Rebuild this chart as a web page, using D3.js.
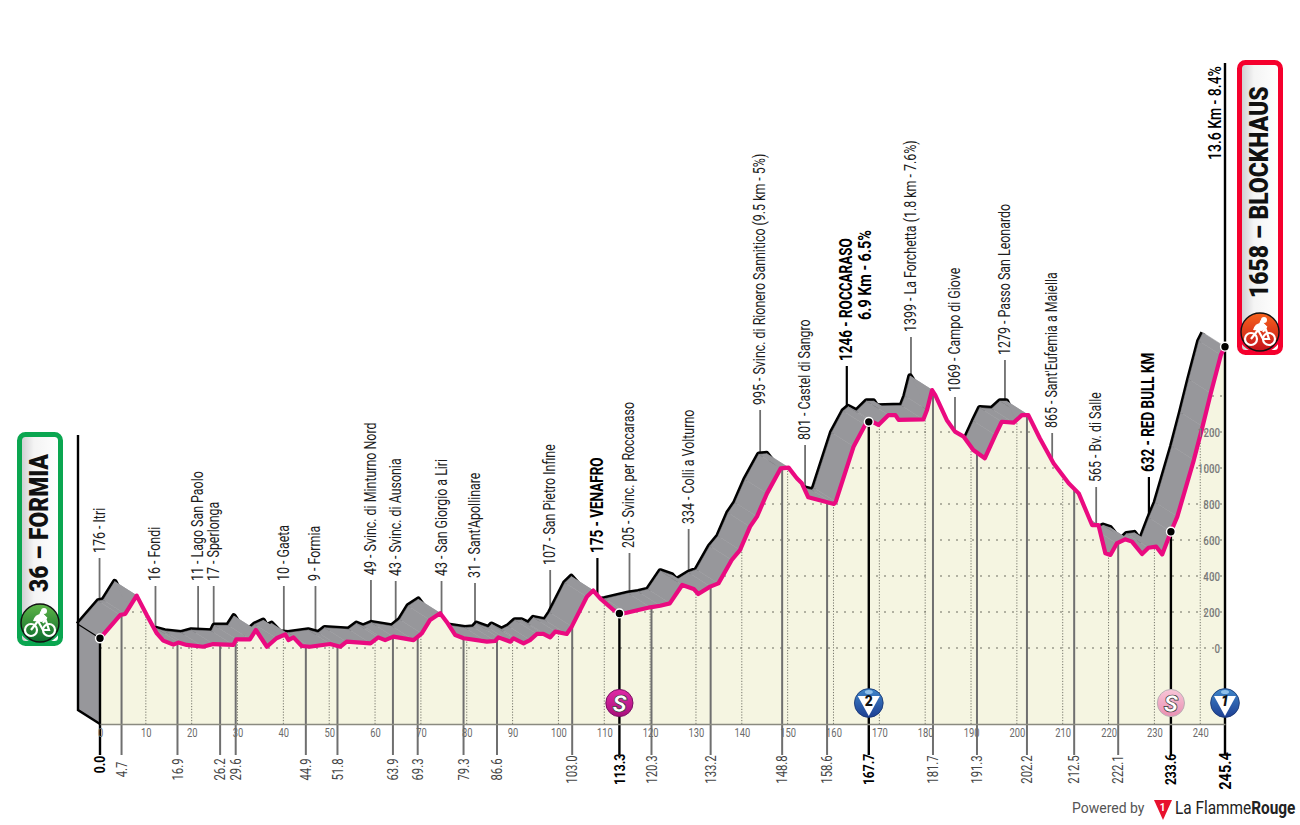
<!DOCTYPE html>
<html>
<head>
<meta charset="utf-8">
<script src="https://d3js.org/d3.v7.min.js"></script>
<style>
  html, body { margin: 0; padding: 0; background: #fff; }
  svg { display: block; }
  text { font-family: Roboto, sans-serif; }
</style>
</head>
<body>
<svg id="chart" width="1300" height="825"></svg>
<script>
// profile
var profileKm = [0, 4.4, 5.5, 8, 10.2, 12.4, 13.8, 16, 17.1, 18.9, 22.5, 24.7, 29.1, 29.7, 32.7, 34, 36.4, 38.5, 40.4, 41.1, 42.2, 44, 45.8, 50.2, 52.4, 53.8, 59, 60.7, 62.2, 64, 68.4, 70.2, 72, 74.2, 75.6, 77.5, 79.3, 84.4, 86.2, 86.9, 89.5, 90.2, 92.4, 93.8, 95.3, 96.7, 98.2, 99.3, 101.8, 102.9, 106.2, 107.6, 109.1, 112, 113.5, 114.9, 120, 122.2, 124.3, 127, 129.5, 130.5, 133.1, 134.9, 137.8, 139.6, 141.8, 143.3, 145.5, 148.5, 150.2, 152, 153.1, 154.5, 160.1, 160.5, 164.4, 166.9, 168, 169.8, 172, 173.5, 174.2, 179.6, 180.4, 181.5, 182.2, 184.7, 186.5, 188.4, 190.5, 193, 195.3, 196.7, 199.3, 201.1, 202.5, 205, 208, 211.3, 213.5, 216.4, 217.8, 219.3, 220.4, 221.8, 223.6, 225.1, 227.3, 228.7, 230.4, 231.7, 233.6, 235, 238.6, 240.5, 242.3, 244.5, 245.4];
var profileElev = [54, 183, 189, 291, 183, 81, 41, 19, 30, 17, 7, 22, 17, 48, 48, 100, 7, 54, 76, 44, 59, 11, 7, 22, 7, 35, 26, 59, 44, 63, 44, 81, 156, 193, 146, 72, 54, 35, 39, 59, 35, 54, 26, 44, 78, 78, 59, 91, 78, 119, 285, 319, 276, 211, 189, 196, 226, 235, 248, 350, 328, 300, 341, 359, 489, 544, 674, 730, 859, 998, 1002, 943, 915, 837, 800, 813, 1120, 1239, 1263, 1239, 1294, 1294, 1267, 1270, 1322, 1433, 1405, 1267, 1202, 1174, 1100, 1054, 1183, 1257, 1252, 1294, 1294, 1165, 1026, 915, 859, 683, 683, 526, 517, 581, 604, 591, 522, 557, 563, 520, 646, 730, 1044, 1230, 1415, 1628, 1674];

var kmTicks = d3.range(0, 241, 10);
var elevTicks = [0, 200, 400, 600, 800, 1000, 1200];
var gridElev = [0, 200, 400, 600, 800, 1000, 1200, 1400];

var waypointKm = [4.7, 16.9, 26.2, 29.6, 44.9, 51.8, 63.9, 69.3, 79.3, 86.6, 103.0, 113.3, 120.3, 133.2, 148.8, 158.6, 167.7, 181.7, 191.3, 202.2, 212.5, 222.1, 233.6];
var waypointLabel = ["176 - Itri", "16 - Fondi", "11 - Lago San Paolo", "17 - Sperlonga", "10 - Gaeta", "9 - Formia", "49 - Svinc. di Minturno Nord", "43 - Svinc. di Ausonia", "43 - San Giorgio a Liri", "31 - Sant'Apollinare", "107 - San Pietro Infine", "175 - VENAFRO", "205 - Svinc. per Roccaraso", "334 - Colli a Volturno", "995 - Svinc. di Rionero Sannitico (9.5 km - 5%)", "801 - Castel di Sangro", "1246 - ROCCARASO", "1399 - La Forchetta (1.8 km - 7.6%)", "1069 - Campo di Giove", "1279 - Passo San Leonardo", "865 - Sant'Eufemia a Maiella", "565 - Bv. di Salle", "632 - RED BULL KM"];
var waypointBold = [113.3, 167.7, 233.6];
var finishKm = 245.4;
var startKm = 0;
var startLabel = "36 – FORMIA";
var finishLabel = "1658 – BLOCKHAUS";
var finishClimb = "13.6 Km - 8.4%";
var roccarasoClimb = "6.9 Km - 6.5%";
var badgeKm = [113.3, 167.7, 233.6, 245.4];
var badgeKind = ["S", "2", "s", "1"];

/* layout, not data */
var axisY = 724, kmLabelY = 769.5, dropY = 755;
var offX = -22, offY = -14;                // depth of the gray band
// top of each leader line, same order as the waypoints
var leaderTop = [558, 586, 586, 586, 586, 586, 580, 581, 581, 583, 570, 558, 553, 529, 410, 445, 366, 337, 397, 360, 433, 487, 477];

var x = d3.scaleLinear().domain([0, 245.4]).range([100, 1225]);
var y = d3.scaleLinear().domain([0, 1400]).range([648, 396]);

var points = profileKm.map(function(k, i){ return [k, profileElev[i]]; });

function elevAt(km){
  var i = d3.bisectLeft(profileKm, km);
  if(i <= 0) return profileElev[0];
  if(i >= profileKm.length) return profileElev[profileElev.length-1];
  var t = (km-profileKm[i-1])/(profileKm[i]-profileKm[i-1]);
  return profileElev[i-1]+t*(profileElev[i]-profileElev[i-1]);
}

var svg = d3.select("#chart");
var defs = svg.append("defs");

function hGrad(id, stops){
  var g = defs.append("linearGradient").attr("id", id).attr("x1", 0).attr("x2", 1).attr("y1", 0).attr("y2", 0);
  stops.forEach(function(s){ g.append("stop").attr("offset", s[0]).attr("stop-color", s[1]); });
}
function vGrad(id, stops){
  var g = defs.append("linearGradient").attr("id", id).attr("x1", 0).attr("x2", 0).attr("y1", 0).attr("y2", 1);
  stops.forEach(function(s){ g.append("stop").attr("offset", s[0]).attr("stop-color", s[1]); });
}
hGrad("boxFill", [[0, "#c9c9cc"], [0.35, "#f4f4f4"], [1, "#ffffff"]]);
vGrad("greenIcon", [[0, "#5fb548"], [1, "#0b6b2c"]]);
vGrad("redIcon", [[0, "#f6631c"], [1, "#c5121c"]]);
vGrad("blueBadge", [[0, "#3f86c9"], [1, "#1d3f93"]]);
vGrad("magBadge", [[0, "#e02aa6"], [1, "#a80f7c"]]);
vGrad("pinkBadge", [[0, "#f8c6d8"], [1, "#e98fb2"]]);

var frontLine = d3.line().x(function(d){ return x(d[0]); }).y(function(d){ return y(d[1]); });
var frontArea = d3.area().x(function(d){ return x(d[0]); }).y0(axisY).y1(function(d){ return y(d[1]); });
var backLine = d3.line().x(function(d){ return x(d[0])+offX; }).y(function(d){ return y(d[1])+offY; });

/* leaders going up to the labels */
var ups = svg.append("g");
waypointKm.forEach(function(k, i){
  var bold = waypointBold.indexOf(k) >= 0;
  ups.append("line")
    .attr("x1", x(k)+offX).attr("x2", x(k)+offX)
    .attr("y1", leaderTop[i]).attr("y2", y(elevAt(k))+offY)
    .attr("stroke", bold ? "#000" : "#6f6f6f").attr("stroke-width", bold ? 2.2 : 1.8);
});

// back edge of the road, the band covers its inner half and the parts behind the crests
svg.append("path").attr("d", backLine(points))
  .attr("fill", "none").attr("stroke", "#000").attr("stroke-width", 5.6).attr("stroke-linejoin", "round");

/* gray band */
var band = svg.append("g");
band.append("path")
  .attr("d", "M"+(x(0)+offX)+","+(y(points[0][1])+offY)+"L"+x(0)+","+y(points[0][1])+"L"+x(0)+","+axisY+"L"+(x(0)+offX)+","+(axisY+offY)+"Z")
  .attr("fill", "#97979b");
d3.pairs(points).forEach(function(p){
  var a = p[0], b = p[1];
  band.append("path")
    .attr("d", "M"+x(a[0])+","+y(a[1])+"L"+x(b[0])+","+y(b[1])+"L"+(x(b[0])+offX)+","+(y(b[1])+offY)+"L"+(x(a[0])+offX)+","+(y(a[1])+offY)+"Z")
    .attr("fill", "#97979b").attr("stroke", "#97979b").attr("stroke-width", 0.5);
});

// left wall edges
svg.append("path").attr("d", "M"+(x(0)+offX)+","+(y(points[0][1])+offY)+"L"+x(0)+","+y(points[0][1]))
  .attr("stroke", "#000").attr("stroke-width", 1.2).attr("fill", "none");
svg.append("path").attr("d", "M"+(x(0)+offX)+",435L"+(x(0)+offX)+","+(axisY+offY)+"L"+x(0)+","+axisY)
  .attr("stroke", "#000").attr("stroke-width", 2.4).attr("fill", "none");

/* front face */
svg.append("path").attr("d", frontArea(points)).attr("fill", "#f5f5e1");
defs.append("clipPath").attr("id", "faceClip").append("path").attr("d", frontArea(points));

var grid = svg.append("g").attr("clip-path", "url(#faceClip)");
gridElev.forEach(function(e){
  grid.append("line").attr("x1", x(0)).attr("x2", x(finishKm)).attr("y1", y(e)).attr("y2", y(e))
    .attr("stroke", "#9a9a8c").attr("stroke-width", 1.6).attr("stroke-dasharray", "2 6");
});
kmTicks.slice(1).forEach(function(k){
  grid.append("line").attr("x1", x(k)).attr("x2", x(k)).attr("y1", 300).attr("y2", axisY)
    .attr("stroke", "#77776c").attr("stroke-width", 1).attr("stroke-dasharray", "1.2 1.6");
});

/* lower drop lines */
var downs = svg.append("g");
waypointKm.forEach(function(k){
  var bold = waypointBold.indexOf(k) >= 0;
  downs.append("line").attr("x1", x(k)).attr("x2", x(k))
    .attr("y1", y(elevAt(k))).attr("y2", dropY)
    .attr("stroke", bold ? "#000" : "#6f6f6f").attr("stroke-width", bold ? 2.4 : 2);
});
[startKm, finishKm].forEach(function(k){
  downs.append("line").attr("x1", x(k)).attr("x2", x(k))
    .attr("y1", k == finishKm ? 63 : y(elevAt(k))).attr("y2", dropY)
    .attr("stroke", "#000").attr("stroke-width", 2.4);
});

/* km axis, its numbers sit over the drop lines */
var kmAxis = svg.append("g").attr("transform", "translate(0,"+axisY+")")
  .call(d3.axisBottom(x).tickValues(kmTicks).tickSize(0).tickPadding(4));
kmAxis.select(".domain").attr("stroke", "#8a8a80").attr("stroke-width", 1.6);
kmAxis.selectAll("text").attr("fill", "#6a6a6a").attr("font-size", 13)
  .attr("font-family", "Roboto").attr("transform", "scale(0.72,1)");

// road
svg.append("path").attr("d", frontLine(points))
  .attr("fill", "none").attr("stroke", "#ea0a80").attr("stroke-width", 4.2).attr("stroke-linejoin", "round");

/* elevation axis, over the road */
var elevAxis = svg.append("g").attr("transform", "translate(1220,0)")
  .call(d3.axisLeft(y).tickValues(elevTicks).tickSize(0).tickPadding(0).tickFormat(d3.format("d")));
elevAxis.select(".domain").remove();
elevAxis.selectAll("text").attr("fill", "#7a7a7a").attr("font-size", 13).attr("font-weight", 500)
  .attr("font-family", "Roboto").attr("transform", "scale(0.75,1)");

/* text helpers */
function vText(px, py, str, opt){
  opt = opt || {};
  return svg.append("text")
    .attr("transform", "translate("+px+","+py+") rotate(-90) scale("+(opt.sx || 0.73)+",1)")
    .attr("dy", "0.35em")
    .attr("text-anchor", opt.anchor || "start")
    .attr("font-size", opt.size || 17)
    .attr("font-weight", opt.weight || 400)
    .attr("fill", opt.fill || "#1c1c1c")
    .text(str);
}

waypointKm.forEach(function(k, i){
  var bold = waypointBold.indexOf(k) >= 0;
  vText(x(k)+offX-1, leaderTop[i]-5, waypointLabel[i], bold ? {size: 18, sx: 0.75, weight: 700, fill: "#000"} : {});
  vText(x(k), kmLabelY, k.toFixed(1), bold
    ? {anchor: "middle", size: 15.5, weight: 700, fill: "#000", sx: 0.78}
    : {anchor: "middle", size: 14.5, fill: "#444", sx: 0.78});
});
vText(x(0), kmLabelY-5, startKm.toFixed(1), {anchor: "middle", size: 15.5, weight: 700, fill: "#000", sx: 0.78});
vText(x(finishKm), kmLabelY+1.5, finishKm.toFixed(1), {anchor: "middle", size: 17, weight: 700, fill: "#000", sx: 0.85});
vText(x(167.7)-4, 320, roccarasoClimb, {size: 18, sx: 0.8, weight: 700, fill: "#000"});
vText(x(finishKm)-10, 160, finishClimb, {size: 17.5, weight: 500, fill: "#000", sx: 0.8});

/* dots on the road */
[startKm].concat(badgeKm).forEach(function(k){
  svg.append("circle").attr("cx", x(k)).attr("cy", y(elevAt(k))).attr("r", 4.4)
    .attr("fill", "#000").attr("stroke", "#fff").attr("stroke-width", 1.4);
});

/* badges */
badgeKm.forEach(function(k, i){
  var kind = badgeKind[i], g = svg.append("g").attr("transform", "translate("+x(k)+",703)");
  if(kind == "S" || kind == "s"){
    g.append("circle").attr("r", 13.6).attr("fill", kind == "S" ? "url(#magBadge)" : "url(#pinkBadge)")
      .attr("stroke", kind == "S" ? "#7a0f63" : "#b9b0b4").attr("stroke-width", 1);
    g.append("text").attr("text-anchor", "middle").attr("dy", "0.36em").attr("font-size", 24)
      .attr("font-weight", 900).attr("font-style", "italic")
      .attr("fill", "#fff").attr("stroke", "#333").attr("stroke-width", 0.7).text("S");
  } else {
    g.append("circle").attr("r", 14.4).attr("fill", "url(#blueBadge)").attr("stroke", "#17336f").attr("stroke-width", 0.8);
    g.append("ellipse").attr("cy", -11).attr("rx", 4).attr("ry", 2).attr("fill", "#8fc0ea");
    g.append("path").attr("d", "M-11,-7L11,-7L0,13Z").attr("fill", "#fff");
    g.append("text").attr("text-anchor", "middle").attr("y", 3).attr("font-size", 14)
      .attr("font-weight", 900).attr("font-style", kind == "1" ? "italic" : "normal").attr("fill", "#111").text(kind);
  }
});

/* start / finish plates */
function plate(px, py, w, h, colour, iconFill, iconCy, label, labelX, labelY){
  svg.append("rect").attr("x", px+2.5).attr("y", py+2.5).attr("width", w-5).attr("height", h-5).attr("rx", 6)
    .attr("fill", "url(#boxFill)").attr("stroke", colour).attr("stroke-width", 5);
  var cx = px+w/2;
  svg.append("path").attr("d", "M"+px+","+(iconCy-2)+"A"+(w/2)+","+(w/2)+" 0 0 0 "+(px+w)+","+(iconCy-2)+"L"+(px+w)+","+(iconCy-22)+"L"+(px+w-5)+","+(iconCy-22)+"L"+(px+w-5)+","+iconCy+"L"+(px+5)+","+iconCy+"L"+(px+5)+","+(iconCy-22)+"L"+px+","+(iconCy-22)+"Z").attr("fill", colour);
  svg.append("circle").attr("cx", cx).attr("cy", iconCy).attr("r", 19).attr("fill", iconFill)
    .attr("stroke", "#111").attr("stroke-width", 1.4);
  // rider
  var r = svg.append("g").attr("transform", "translate("+cx+","+iconCy+")").attr("fill", "#fff").attr("stroke", "none");
  [-9, 9].forEach(function(wx){
    r.append("circle").attr("cx", wx).attr("cy", 7).attr("r", 6).attr("fill", "none").attr("stroke", "#fff").attr("stroke-width", 2.2);
  });
  r.append("path").attr("d", "M-9,7L-2,-2L5,-5L9,7L3,7L-2,-2L1,-10L6,-5L3,0").attr("fill", "none").attr("stroke", "#fff").attr("stroke-width", 2.2);
  r.append("circle").attr("cx", 4).attr("cy", -12).attr("r", 3);
  r.append("path").attr("d", "M-7,-2Q-5,-10 3,-9L7,-5L2,-1Z");
  vText(labelX, labelY, label, {size: 26, weight: 900, fill: "#111", sx: 0.88});
}
plate(17, 432, 46, 214, "#0aa650", "url(#greenIcon)", 623, startLabel, 39, 592);
plate(1237, 60, 46, 295, "#f5002d", "url(#redIcon)", 332, finishLabel, 1259, 298);

/* footer */
svg.append("text").attr("x", 1072).attr("y", 813).attr("font-family", "Lato").attr("font-size", 14).attr("fill", "#555").text("Powered by");
var logo = svg.append("g").attr("transform", "translate(1154,800)");
logo.append("path").attr("d", "M0,0L18,0L9,20Z").attr("fill", "#e8112d");
logo.append("text").attr("x", 8.5).attr("y", 11).attr("text-anchor", "middle").attr("font-size", 10).attr("font-weight", 700).attr("fill", "#fff").text("1");
var brand = svg.append("text").attr("transform", "translate(1175,814) scale(0.81,1)").attr("font-family", "Lato").attr("font-size", 19).attr("fill", "#222");
brand.append("tspan").attr("font-weight", 400).text("La Flamme");
brand.append("tspan").attr("font-weight", 700).text("Rouge");
</script>
</body>
</html>
